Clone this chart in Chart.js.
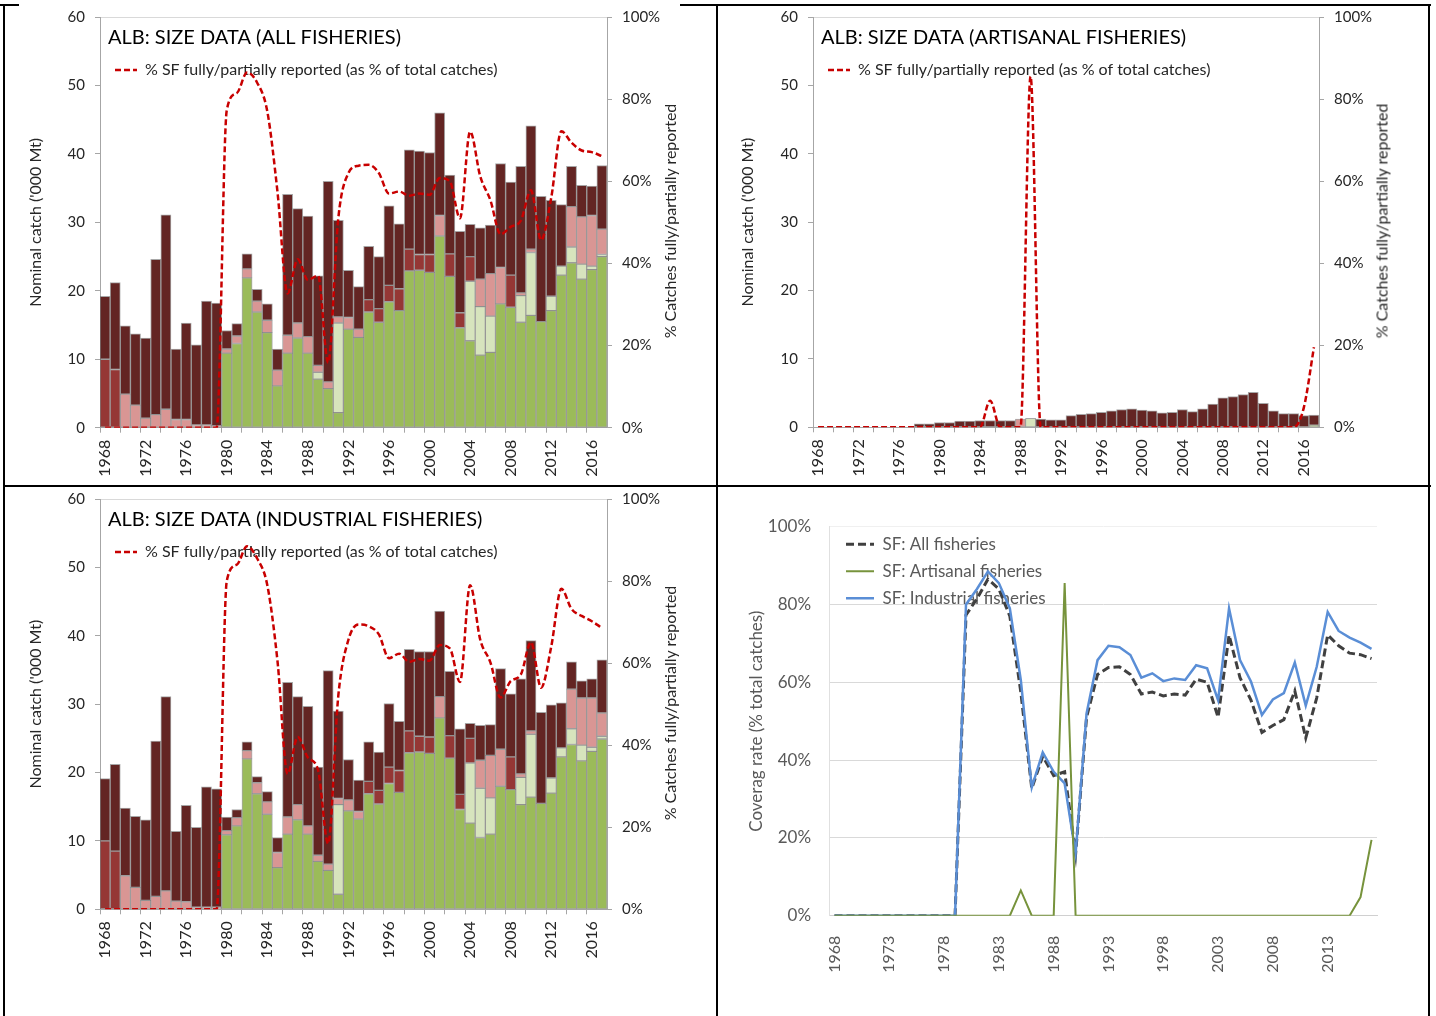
<!DOCTYPE html>
<html><head><meta charset="utf-8">
<script src="https://cdn.jsdelivr.net/npm/chart.js@4.4.1/dist/chart.umd.min.js"></script>
<style>
html,body{margin:0;padding:0;background:#fff;width:1436px;height:1016px;overflow:hidden;font-family:Lato,sans-serif}
canvas{position:absolute;display:block}
.ln{position:absolute;background:#000}
.rt{position:absolute;transform:translate(-50%,-50%) rotate(-90deg);white-space:nowrap;font:16px Lato;color:#262626}
</style></head><body>
<div class="ln" style="left:3px;top:4px;width:2px;height:1012px"></div>
<div class="ln" style="left:0px;top:4px;width:19px;height:2px"></div>
<div class="ln" style="left:680px;top:4px;width:751px;height:2px"></div>
<div class="ln" style="left:716px;top:4px;width:2px;height:1012px"></div>
<div class="ln" style="left:3px;top:485px;width:1428px;height:2px"></div>
<div class="ln" style="left:1428px;top:4px;width:2px;height:1012px"></div>

<canvas id="c1" width="703" height="477" style="left:12px;top:7px;width:703px;height:477px"></canvas>
<canvas id="c2" width="709" height="477" style="left:719px;top:7px;width:709px;height:477px"></canvas>
<canvas id="c3" width="703" height="527" style="left:12px;top:489px;width:703px;height:527px"></canvas>
<canvas id="c4" width="709" height="528" style="left:719px;top:488px;width:709px;height:528px"></canvas>

<div class="rt" style="left:669px;top:221px">% Catches fully/partially reported</div>
<div class="rt" style="left:1381px;top:221px">% Catches fully/partially reported</div>
<div class="rt" style="left:669px;top:703px">% Catches fully/partially reported</div>

<script>
const years = ['1968','1969','1970','1971','1972','1973','1974','1975','1976','1977',
  '1978','1979','1980','1981','1982','1983','1984','1985','1986','1987',
  '1988','1989','1990','1991','1992','1993','1994','1995','1996','1997',
  '1998','1999','2000','2001','2002','2003','2004','2005','2006','2007',
  '2008','2009','2010','2011','2012','2013','2014','2015','2016','2017'];

// ALL FISHERIES ('000 t)
const allGreen = [0,0,0,0,0,0,0,0,0,0, 0,0,10.9,12.3,21.9,16.9,13.9,6.1,10.9,13.1, 10.9,7.1,5.7,2.2,14.4,13.2,16.9,15.4,18.4,17.1, 22.9,23.0,22.7,28.0,22.1,14.6,12.7,10.6,11.0,18.1, 17.6,15.4,16.4,15.5,17.1,22.3,24.1,21.7,23.1,25.0];
const allLGreen = [0,0,0,0,0,0,0,0,0,0, 0,0,0,0,0,0,0,0,0,0, 0,1.0,0,13.1,0,0,0,0,0,0, 0,0,0,0,0,0,8.7,7.1,5.3,0, 0,3.9,9.2,0,2.1,1.3,2.3,2.2,0.5,0.3];
const allPink = [0,0,4.9,3.3,1.4,1.9,2.7,1.2,1.2,0.4, 0.4,0.3,0.6,1.1,1.3,1.6,1.8,2.3,2.6,2.2, 2.4,1.0,1.0,0.9,1.7,1.2,0,0,0,0, 0,0,0,3.0,0,0,0,4.0,6.2,5.3, 0,0.4,0.5,0,0,0,5.9,6.9,7.4,3.7];
const allMRed = [10.0,8.5,0,0,0,0,0,0,0,0, 0,0,0,0,0,0,0,0,0,0, 0,0,0,0,0,0,1.8,2.0,2.4,3.2, 3.2,2.3,2.6,0,3.3,2.2,3.6,0,0,0, 4.7,0,0,0,0,0,0,0,0,0];
const allBrown = [9.2,12.7,10.0,10.4,11.7,22.7,28.4,10.3,14.1,11.7, 18.1,17.9,2.7,1.8,2.2,1.7,2.4,3.1,20.6,16.7, 17.6,13.1,29.3,14.1,6.9,6.2,7.8,7.6,11.6,9.5, 14.5,15.1,14.9,15.0,11.5,11.9,4.7,7.5,7.1,15.2, 13.6,18.5,18.0,18.3,14.0,9.0,5.9,4.6,4.3,9.3];

// ARTISANAL FISHERIES ('000 t)
const artGreen = [0,0,0,0,0,0,0,0,0,0, 0,0,0,0,0,0,0,0,0,0, 0,0,0,0,0,0,0,0,0,0, 0,0,0,0,0,0,0,0,0,0, 0,0,0,0,0,0,0,0,0,0.3];
const artLGreen = [0,0,0,0,0,0,0,0,0,0, 0,0,0,0,0,0,0,0,0,0, 0,1.3,0,0,0,0,0,0,0,0, 0,0,0,0,0,0,0,0,0,0, 0,0,0,0,0,0,0,0,0,0];
const artPink = [0,0,0,0,0,0,0,0,0,0, 0,0,0,0,0,0,0,0,0,0, 1.2,0,0,0,0,0,0,0,0,0, 0,0,0,0,0,0,0,0,0,0, 0,0,0,0,0,0,0,0,0,0];
const artMRed = [0,0,0,0,0,0,0,0,0,0, 0,0,0,0,0,0,0,0,0,0, 0,0,0,0,0,0,0,0,0,0, 0,0,0,0,0,0,0,0,0,0, 0,0,0,0,0,0,0,0,0,0];
const artBrown = [0,0,0,0,0,0,0,0,0,0, 0.5,0.5,0.7,0.7,0.9,0.9,1.0,1.0,1.0,1.0, 0,0,1.2,1.1,1.1,1.7,1.9,2.0,2.2,2.4, 2.6,2.7,2.5,2.4,2.1,2.2,2.6,2.3,2.7,3.4, 4.3,4.5,4.8,5.1,3.5,2.4,2.0,2.0,1.7,1.5];

// INDUSTRIAL FISHERIES ('000 t)
const indGreen = [0,0,0,0,0,0,0,0,0,0, 0,0,10.9,12.2,22.0,16.9,13.9,6.1,11.0,13.1, 11.0,7.0,5.7,2.2,14.4,13.2,16.9,15.4,18.4,17.1, 22.9,23.0,22.8,28.0,22.1,14.6,12.6,10.5,11.0,18.0, 17.5,15.3,16.4,15.5,17.0,22.3,24.1,21.7,23.1,24.9];
const indLGreen = [0,0,0,0,0,0,0,0,0,0, 0,0,0,0,0,0,0,0,0,0, 0,0,0,13.1,0,0,0,0,0,0, 0,0,0,0,0,0,8.8,7.2,5.3,0, 0,4.0,9.2,0,2.2,1.3,2.3,2.3,0.6,0.4];
const indPink = [0,0,4.9,3.2,1.3,1.9,2.7,1.2,1.1,0.3, 0.3,0.3,0.6,1.2,1.2,1.6,1.8,2.2,2.5,2.2, 1.2,0.9,0.9,0.9,1.6,1.1,0,0,0,0, 0,0,0,3.1,0,0,0,4.1,6.2,5.4, 0,0.5,0.5,0,0,0,5.8,6.9,7.2,3.4];
const indMRed = [10.0,8.5,0,0,0,0,0,0,0,0, 0,0,0,0,0,0,0,0,0,0, 0,0,0,0,0,0,1.8,2.0,2.4,3.2, 3.2,2.3,2.4,0,3.3,2.2,3.6,0,0,0, 4.8,0,0,0,0,0,0,0,0,0];
const indBrown = [9.1,12.7,9.9,10.4,11.8,22.7,28.4,10.2,14.1,11.7, 17.6,17.3,2.0,1.2,1.3,0.9,1.5,2.2,19.7,15.8, 17.5,12.9,28.3,12.8,5.9,4.6,5.8,5.6,9.3,7.2, 11.9,12.4,12.5,12.5,9.4,9.6,2.2,5.1,4.5,11.8, 9.2,13.9,13.2,13.3,10.7,6.6,4.0,2.5,2.8,7.8];

// Coverage (% of total catches with size data)
const pctAll = [0,0,0,0,0,0,0,0,0,0, 0,0,77.3,81.5,86.5,84.0,77.0,57.5,32.7,41.0, 36.0,37.0,15.8,51.0,62.0,63.8,64.0,62.0,57.0,57.5, 56.5,57.0,56.7,60.8,60.0,51.0,72.1,61.2,55.4,47.1, 48.9,50.4,57.8,45.7,56.0,72.2,69.4,67.5,67.1,66.1];
const pctArt = [0,0,0,0,0,0,0,0,0,0, 0,0,0,0,0,0,0,6.5,0,0, 0,85.5,0,0,0,0,0,0,0,0, 0,0,0,0,0,0,0,0,0,0, 0,0,0,0,0,0,0,0,4.8,19.5];
const pctInd = [0,0,0,0,0,0,0,0,0,0, 0,0,80.0,84.0,88.5,85.5,79.0,60.6,33.0,42.0, 37.0,34.0,16.0,52.0,65.7,69.4,69.0,67.0,61.2,62.3, 60.3,61.0,60.6,64.4,63.6,55.4,79.0,65.7,60.2,51.6, 55.6,57.2,65.1,54.0,64.0,78.1,73.2,71.5,70.2,68.6];

const COL = {green:'#9BBB59', lgreen:'#D7E4BD', pink:'#D99694', mred:'#953735', brown:'#632523', red:'#C80000'};
const TXT = '#262626';
const AX = '#a6a6a6';
Chart.defaults.font.family = 'Lato';
Chart.defaults.animation = false;

function placeLegend(dx, dy) {
  return { id: 'placeLegend', afterLayout(chart) {
    const l = chart.legend, a = chart.chartArea;
    l.left = a.left + dx; l.top = a.top + dy;
    l.right = chart.width; l.bottom = chart.height;
  }};
}
// legend entries drawn as the dataset's own (dashed) line
function lineLabels(chart) {
  return Chart.defaults.plugins.legend.labels.generateLabels(chart).map(l => {
    const d = chart.data.datasets[l.datasetIndex];
    l.lineDash = d.borderDash || [];
    l.lineWidth = d.borderWidth;
    l.strokeStyle = d.borderColor;
    l.pointStyle = 'line';
    return l;
  });
}
function noPad(sc) { sc.paddingTop = 0; sc.paddingBottom = 0; }

function sizeChart(id, title, s, pct, geo) {
  const f15 = {family:'Lato', size:15};
  const stacks = [
    ['SF fully reported', s[0], COL.green],
    ['SF partially reported', s[1], COL.lgreen],
    ['Catch partially reported, no SF', s[2], COL.pink],
    ['Catch fully reported, no SF', s[3], COL.mred],
    ['No size data', s[4], COL.brown]
  ];
  const datasets = [{
    type:'line', label:'% SF fully/partially reported (as % of total catches)', data:pct, yAxisID:'y2',
    borderColor:COL.red, borderWidth:2.5, borderDash:[6,3], pointRadius:0, fill:false,
    cubicInterpolationMode:'monotone', order:0
  }].concat(stacks.map(t => ({
    type:'bar', label:t[0], data:t[1], backgroundColor:t[2], borderColor:'rgba(95,95,95,0.55)',
    borderWidth:1, borderSkipped:false, yAxisID:'y', stack:'s', order:1,
    categoryPercentage:1, barPercentage:1
  })));
  return new Chart(document.getElementById(id), {
    type:'bar',
    data:{labels:years, datasets},
    options:{
      responsive:false, devicePixelRatio:1, animation:false,
      layout:{padding:{top:10, left:0, right:0, bottom:0}},
      plugins:{
        tooltip:{enabled:false},
        legend:{
          display:true, position:'top', align:'start', maxHeight:0.01,
          title:{display:true, position:'start', text:title, color:'#000', font:{family:'Lato', size:20}, padding:{top:11, bottom:3}},
          labels:{generateLabels:lineLabels, filter:(it)=>it.datasetIndex===0, usePointStyle:true, pointStyle:'line', pointStyleWidth:22,
            padding:7, textAlign:'left', color:TXT, font:{family:'Lato', size:16}}
        }
      },
      scales:{
        x:{stacked:true, offset:true,
          grid:{display:true, offset:true, drawOnChartArea:false, tickLength:5,
            tickColor:(c)=> (typeof c.index==='number' && c.index%2===0) ? AX : 'rgba(0,0,0,0)'},
          border:{display:true, color:AX},
          ticks:{autoSkip:false, maxRotation:90, minRotation:90, padding:7, color:TXT, font:{family:'Lato', size:16},
            callback:(v,i)=> i%4===0 ? years[i] : ''},
          afterFit:(sc)=>{ sc.height = geo.xh; }
        },
        y:{stacked:true, min:0, max:60, position:'left',
          ticks:{stepSize:10, padding:10, color:TXT, font:f15},
          grid:{drawOnChartArea:true, color:(c)=> (c.tick && c.tick.value===60) ? '#d9d9d9' : 'rgba(0,0,0,0)', tickColor:AX, tickLength:5},
          border:{display:true, color:AX},
          title:{display:true, text:"Nominal catch ('000 Mt)", color:TXT, font:{family:'Lato', size:16}, padding:{top:geo.tp, bottom:0}},
          afterFit:(sc)=>{ sc.width = geo.yw; noPad(sc); }
        },
        y2:{position:'right', min:0, max:100,
          ticks:{stepSize:20, padding:10, color:TXT, font:f15, callback:(v)=> v+'%'},
          grid:{drawOnChartArea:false, tickColor:AX, tickLength:5},
          border:{display:true, color:AX},
          afterFit:(sc)=>{ sc.width = geo.y2w; noPad(sc); }
        }
      }
    },
    plugins:[placeLegend(8, 0)]
  });
}

sizeChart('c1', 'ALB: SIZE DATA (ALL FISHERIES)', [allGreen, allLGreen, allPink, allMRed, allBrown], pctAll, {xh:56.3, yw:88, y2w:108, tp:14});
sizeChart('c2', 'ALB: SIZE DATA (ARTISANAL FISHERIES)', [artGreen, artLGreen, artPink, artMRed, artBrown], pctArt, {xh:56.7, yw:94, y2w:109, tp:19});
sizeChart('c3', 'ALB: SIZE DATA (INDUSTRIAL FISHERIES)', [indGreen, indLGreen, indPink, indMRed, indBrown], pctInd, {xh:106.7, yw:88, y2w:108, tp:14});

// Coverage comparison chart
const G = '#595959';
new Chart(document.getElementById('c4'), {
  type:'line',
  data:{labels:years, datasets:[
    {label:'SF: All fisheries', data:pctAll, borderColor:'#404040', borderWidth:3, borderDash:[8,4], pointRadius:0, fill:false, order:3},
    {label:'SF: Artisanal fisheries', data:pctArt, borderColor:'#77933C', borderWidth:2, pointRadius:0, fill:false, order:1},
    {label:'SF: Industrial fisheries', data:pctInd, borderColor:'#5A8ED6', borderWidth:2.5, pointRadius:0, fill:false, order:2}
  ]},
  options:{
    responsive:false, devicePixelRatio:1, animation:false,
    layout:{padding:{top:38.7, right:51, left:0, bottom:0}},
    plugins:{
      tooltip:{enabled:false},
      legend:{display:true, position:'left', align:'start', maxWidth:0.01,
        labels:{generateLabels:lineLabels, usePointStyle:true, pointStyle:'line', pointStyleWidth:28, padding:10, textAlign:'left',
          color:G, font:{family:'Lato', size:17}, sort:(a,b)=>a.datasetIndex-b.datasetIndex}
      }
    },
    scales:{
      x:{offset:true, grid:{display:false}, border:{display:true, color:'#d0d0d0'},
        ticks:{autoSkip:false, maxRotation:90, minRotation:90, padding:12, color:G, font:{family:'Lato', size:16},
          callback:(v,i)=> i%5===0 ? years[i] : ''},
        afterFit:(sc)=>{ sc.height = 100.3; }
      },
      y:{min:0, max:100,
        ticks:{stepSize:20, padding:18, color:G, font:{family:'Lato', size:17}, callback:(v)=> v+'%'},
        grid:{drawTicks:false, color:(c)=> (c.tick && c.tick.value===100) ? '#f0f0f0' : '#d9d9d9'},
        border:{display:true, color:'#e0e0e0'},
        title:{display:true, text:'Coverag rate (% total catches)', color:G, font:{family:'Lato', size:17}, padding:{top:27, bottom:0}},
        afterFit:(sc)=>{ sc.width = 110; noPad(sc); }
      }
    }
  },
  plugins:[placeLegend(7, -1)]
});
</script>
</body></html>
